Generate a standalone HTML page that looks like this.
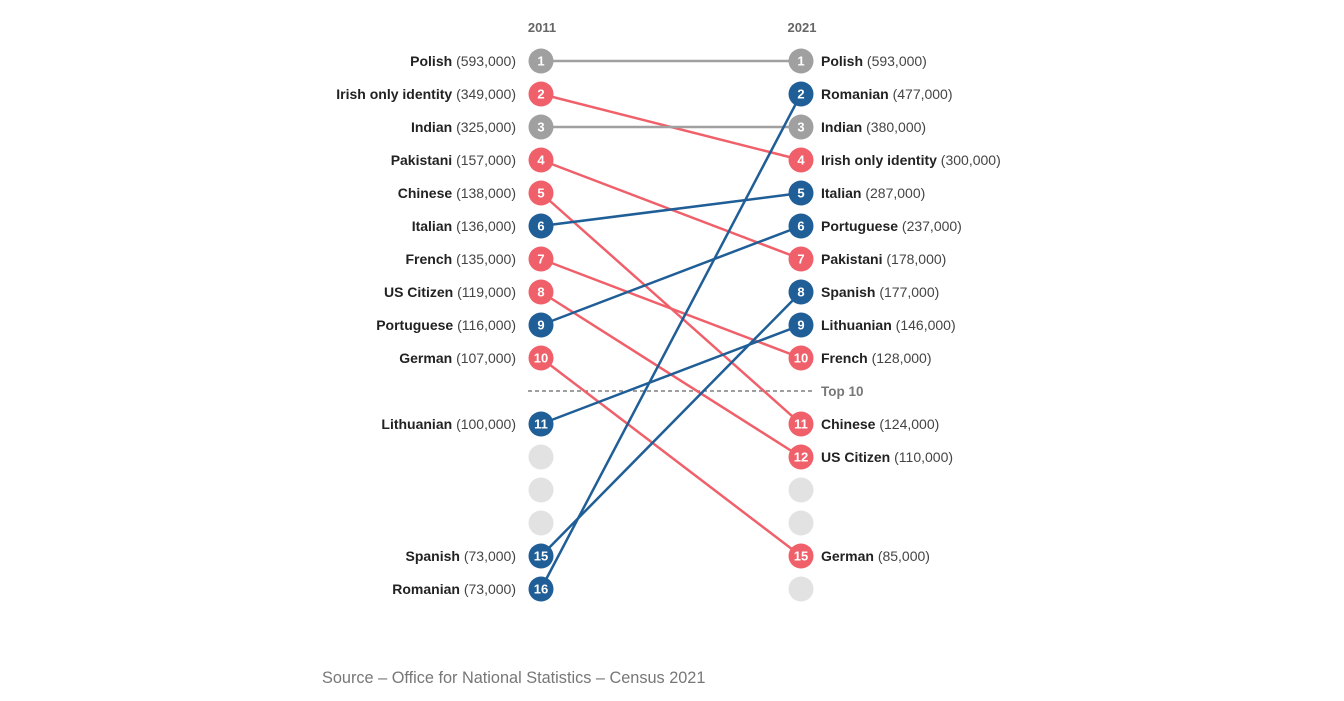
<!DOCTYPE html>
<html><head><meta charset="utf-8">
<style>
body{margin:0;background:#fff;width:1344px;height:696px;overflow:hidden;font-family:"Liberation Sans",sans-serif;}
svg text{font-family:"Liberation Sans",sans-serif;}
</style></head>
<body>
<svg id="chart" width="1344" height="696" viewBox="0 0 1344 696" xmlns="http://www.w3.org/2000/svg">
<text x="542" y="32" text-anchor="middle" font-size="13" font-weight="bold" fill="#666">2011</text>
<text x="802" y="32" text-anchor="middle" font-size="13" font-weight="bold" fill="#666">2021</text>
<g id="lines"></g>
<g id="marks"></g>
<text x="322" y="683" font-size="16.3" fill="#777">Source – Office for National Statistics – Census 2021</text>
</svg>
<script>
const names = ["Polish","Irish only identity","Indian","Pakistani","Chinese","Italian","French","US Citizen","Portuguese","German","Lithuanian","Spanish","Romanian"];
const rank2011 = [1,2,3,4,5,6,7,8,9,10,11,15,16];
const value2011 = ["593,000","349,000","325,000","157,000","138,000","136,000","135,000","119,000","116,000","107,000","100,000","73,000","73,000"];
const rank2021 = [1,4,3,7,11,5,10,12,6,15,9,8,2];
const value2021 = ["593,000","300,000","380,000","178,000","124,000","287,000","128,000","110,000","237,000","85,000","146,000","177,000","477,000"];
const emptyLeft = [12,13,14];
const emptyRight = [13,14,16];

const xL = 541, xR = 801;
function yRank(r){ const row = r <= 10 ? r-1 : r; return 61 + row*33; }
function col(i){ if(rank2021[i] < rank2011[i]) return "#1f5e96"; if(rank2021[i] > rank2011[i]) return "#f0606a"; return "#a0a0a0"; }
const NS = "http://www.w3.org/2000/svg";
const lines = document.getElementById("lines"), marks = document.getElementById("marks");
function mk(tag, attrs, parent){ const e = document.createElementNS(NS, tag); for(const k in attrs) e.setAttribute(k, attrs[k]); parent.appendChild(e); return e; }

const dash = mk("line",{x1:528,x2:814,y1:yRank(10)+33,y2:yRank(10)+33,stroke:"#666","stroke-width":1.3,"stroke-dasharray":"4,3"},lines);


const t10 = mk("text",{x:821,y:yRank(10)+38,"font-size":13.5,"font-weight":"bold",fill:"#777"},lines);
t10.textContent = "Top 10";



emptyLeft.forEach(r=>{ const c = mk("circle",{cx:xL,cy:yRank(r),r:12.5,fill:"#e2e2e2"},marks);
  
   });
emptyRight.forEach(r=>{ const c = mk("circle",{cx:xR,cy:yRank(r),r:12.5,fill:"#e2e2e2"},marks);
  
   });

names.forEach((n,i)=>{
  const c = col(i), y1 = yRank(rank2011[i]), y2 = yRank(rank2021[i]);
  const ln = mk("line",{x1:xL,y1:y1,x2:xR,y2:y2,stroke:c,"stroke-width":2.5},lines);
  
  
  [[xL,y1,rank2011[i]],[xR,y2,rank2021[i]]].forEach(([x,y,r],k)=>{
    const ci = mk("circle",{cx:x,cy:y,r:12.5,fill:c},marks);
    
    
    const tx = mk("text",{x:x,y:y+4.5,"text-anchor":"middle","font-size":13,"font-weight":"bold",fill:"#fff"},marks);
    tx.textContent = r;
    
    
  });
  const lt = mk("text",{x:516,y:y1+5,"text-anchor":"end","font-size":14,fill:"#222"},marks);
  lt.innerHTML = '<tspan font-weight="bold">'+n+'</tspan> <tspan fill="#444">('+value2011[i]+')</tspan>';
  
  
  const rt = mk("text",{x:821,y:y2+5,"font-size":14,fill:"#222"},marks);
  rt.innerHTML = '<tspan font-weight="bold">'+n+'</tspan> <tspan fill="#444">('+value2021[i]+')</tspan>';
  
  
});
</script>
</body></html>
